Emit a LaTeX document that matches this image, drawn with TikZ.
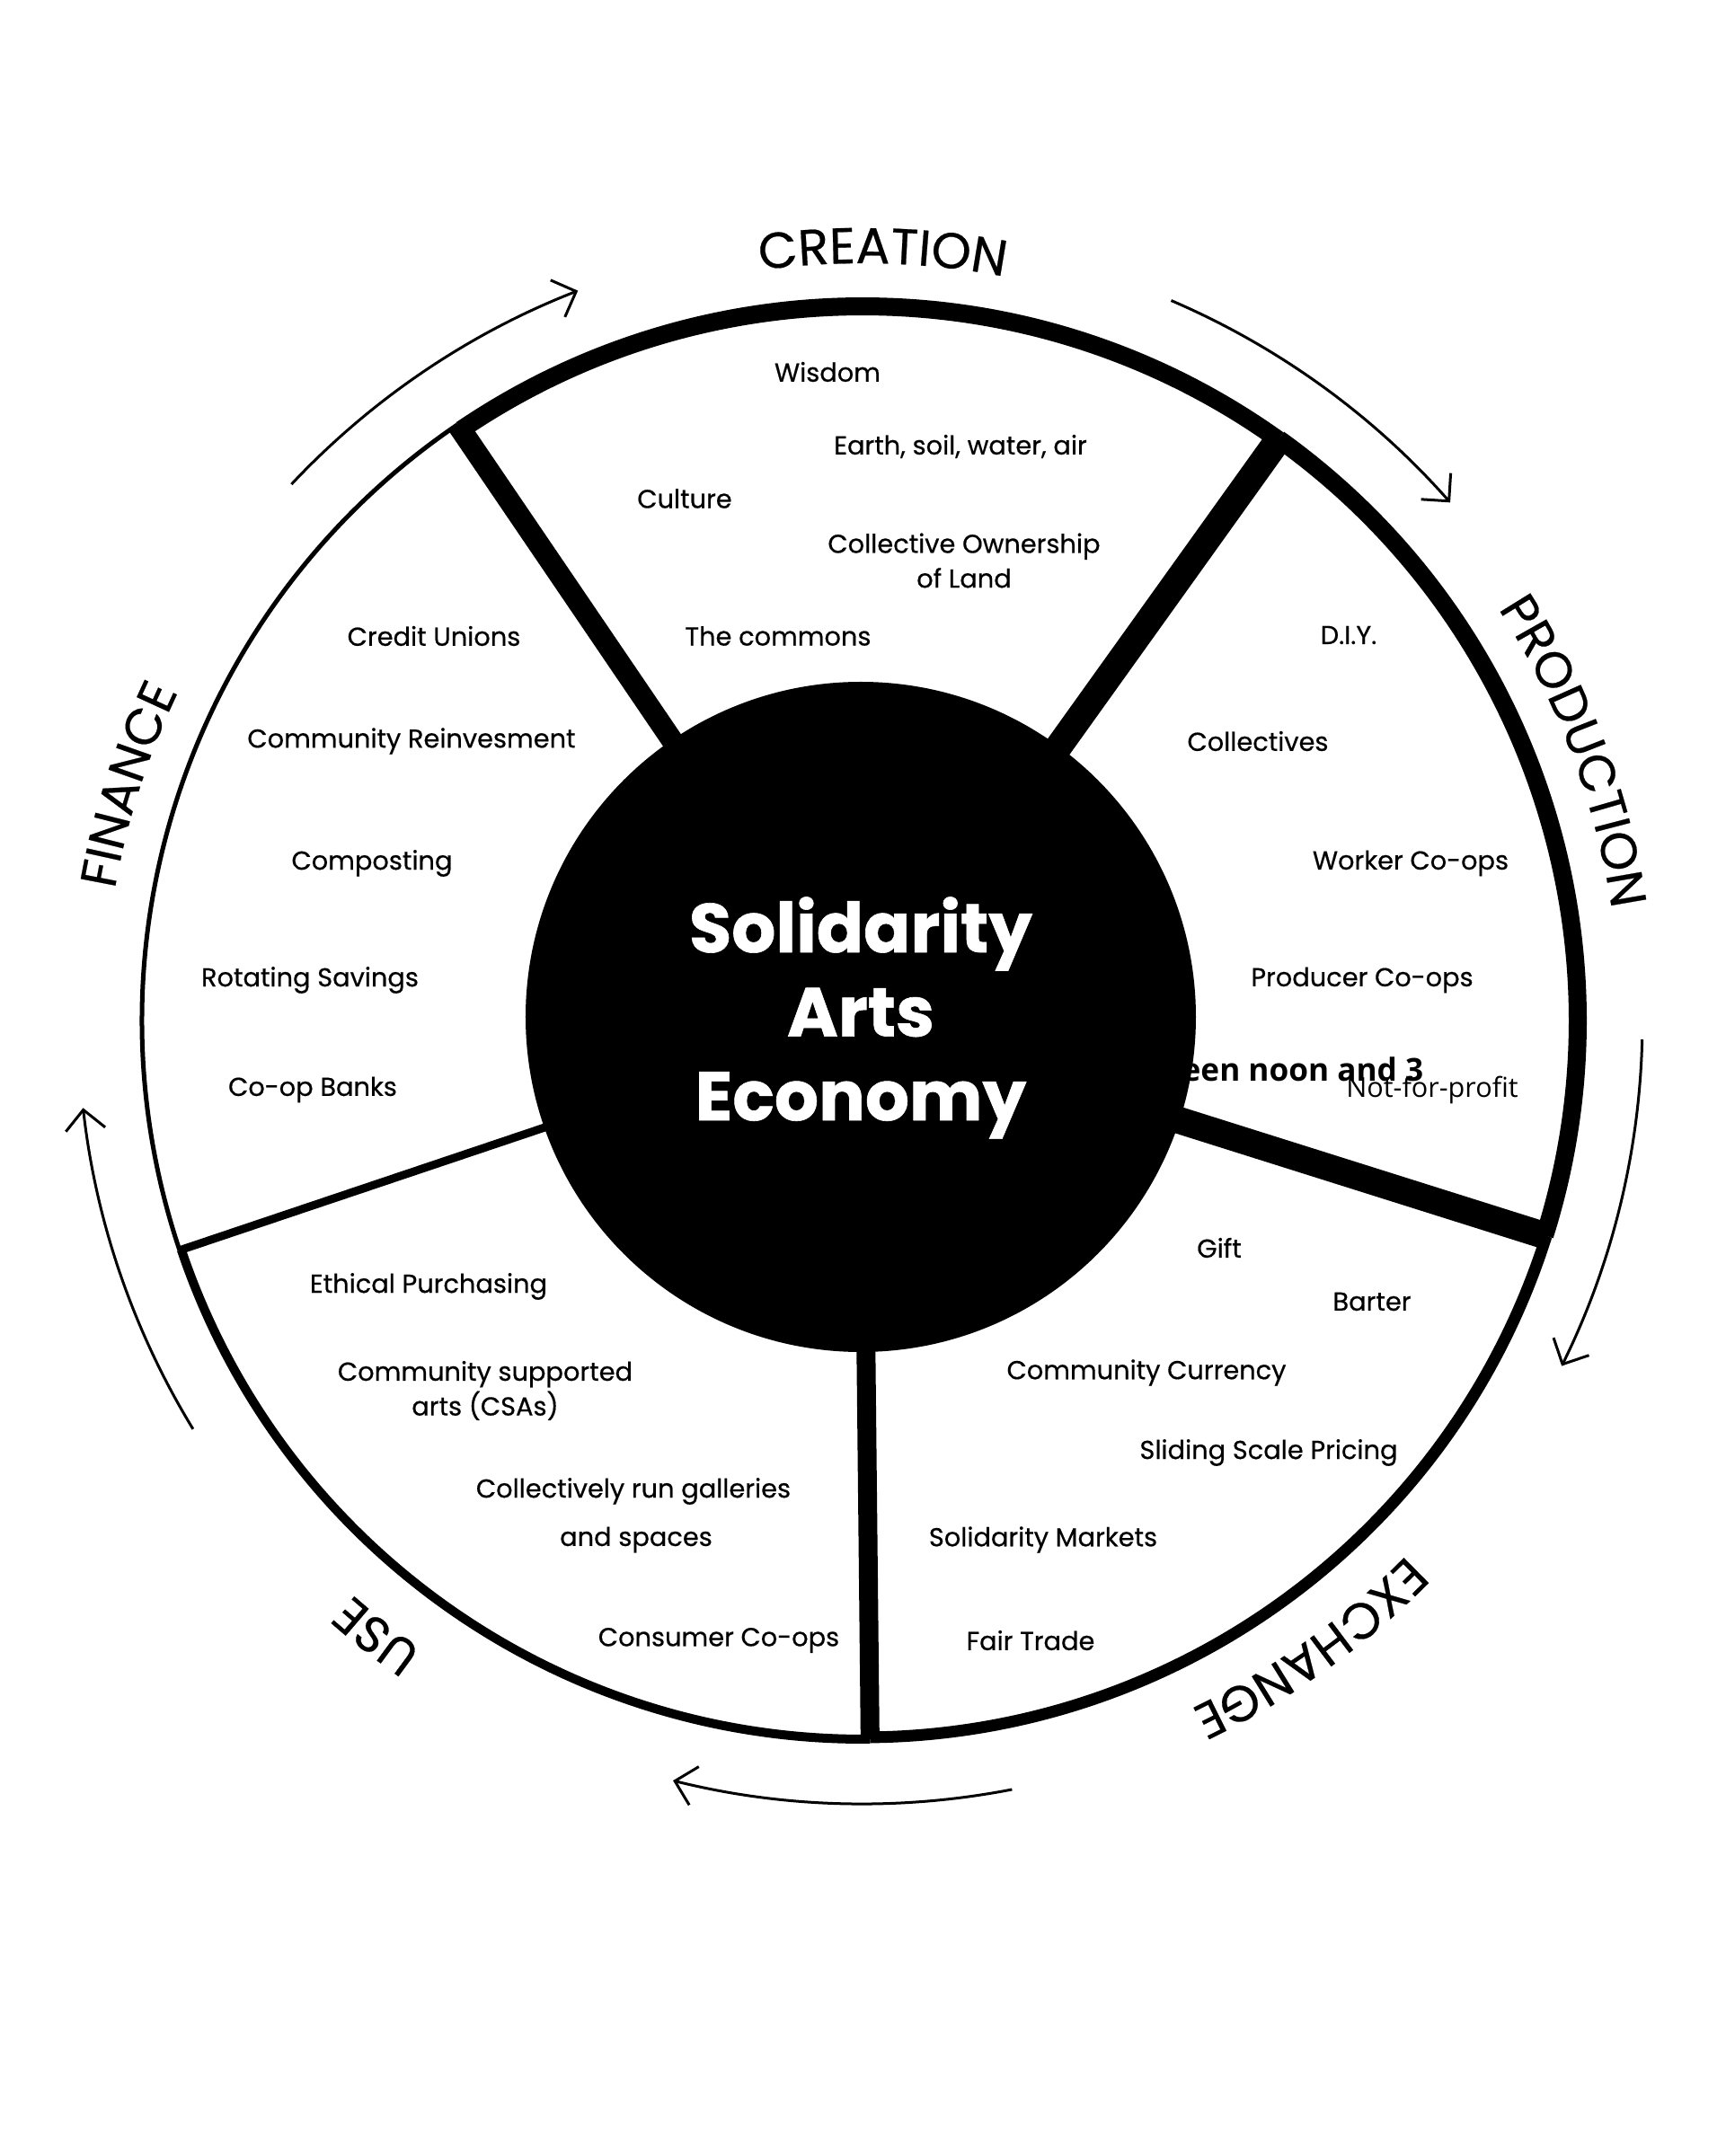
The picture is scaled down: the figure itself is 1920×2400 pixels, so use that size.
\documentclass[tikz,border=0pt]{standalone}
\usepackage{fontspec}
\setmainfont{Poppins}
\newfontfamily\itemfont{Poppins}[FakeBold=0.5]
\newfontfamily\ringfont{Poppins}[FakeBold=0.4]
\newfontfamily\titlefont{Poppins}[BoldFeatures={FakeBold=0.8}]
\newfontfamily\opensans{Open Sans}
\usetikzlibrary{arrows.meta,decorations.text}

\tikzset{
  item/.style={font=\itemfont\fontsize{8.2}{11}\selectfont, align=center, inner sep=0pt},
  stray/.style={font=\opensans\fontsize{8.7}{11}\selectfont, inner sep=0pt},
  cyclearrow/.style={line width=0.03cm, -{Straight Barb[length=0.22cm,width=0.44cm]}},
}

% label set along the ring: angle, radius, text
\newcommand{\ringtext}[3]{%
  \path [decorate, decoration={text along path, text align=center,
      text={|\ringfont\fontsize{16}{18}\selectfont|#3}}]
    ({#1+40}:#2) arc [start angle={#1+40}, end angle={#1-40}, radius=#2];
}

\begin{document}
\begin{tikzpicture}[x=0.01cm, y=0.01cm]
  \useasboundingbox (-960,-1264) rectangle (960,1136);

  % spokes
  \draw [line width=0.24cm] (124.2:300) -- (124.2:802);
  \draw [line width=0.30cm] (54.4:300) -- (54.4:800);
  \draw [line width=0.30cm] (-17.5:300) -- (-17.5:800);
  \draw [line width=0.21cm] (-89.4:300) -- (-89.4:800);
  \draw [line width=0.09cm] (198.6:300) -- (198.6:802);

  % rim, one arc per sector
  \draw [line width=0.20cm] (54.4:795) arc [start angle=54.4, end angle=124.2, radius=795];
  \draw [line width=0.20cm] (-17.5:796) arc [start angle=-17.5, end angle=54.4, radius=796];
  \draw [line width=0.13cm] (-89.4:798) arc [start angle=-89.4, end angle=-17.5, radius=798];
  \draw [line width=0.10cm] (-161.4:800) arc [start angle=-161.4, end angle=-89.4, radius=800];
  \draw [line width=0.05cm] (124.2:802) arc [start angle=124.2, end angle=198.6, radius=802];

  % text that runs under the centre
  \node [stray, font=\opensans\fontsize{10}{12}\selectfont\bfseries, anchor=west] (noon) at (355,-54) {een noon and 3};

  % centre
  \fill (-2,4) circle [radius=373];
  \node [white, font=\titlefont\bfseries\fontsize{21.9}{26.6}\selectfont, align=center, inner sep=0pt] (title) at (-2,3) {Solidarity\\Arts\\Economy};

  % ring labels
  \ringtext{88.5}{843}{CREATION}
  \ringtext{20.7}{843}{PRODUCTION}
  \ringtext{-54.5}{849}{EXCHANGE}
  \ringtext{-128.3}{855}{USE}
  \ringtext{162.2}{845}{FINANCE}

  % arrows between the labels
  \draw [cyclearrow] (136.8:872) arc [start angle=136.8, end angle=111.3, radius=872];
  \draw [cyclearrow] (66.8:872) arc [start angle=66.8, end angle=41.4, radius=872];
  \draw [cyclearrow] (-1.4:868) arc [start angle=-1.4, end angle=-26.3, radius=868];
  \draw [cyclearrow] (-79:872) arc [start angle=-79, end angle=-104, radius=872];
  \draw [cyclearrow] (-148.6:873) arc [start angle=-148.6, end angle=-173.6, radius=873];

  % creation
  \node [item] (wisdom) at (-39,722) {Wisdom};
  \node [item] (earth) at (109,639) {Earth, soil, water, air};
  \node [item] (culture) at (-198,581) {Culture};
  \node [item] (ownership) at (113,512) {Collective Ownership\\of Land};
  \node [item] (commons) at (-94,428) {The commons};
  % finance
  \node [item] (credit) at (-477,428) {Credit Unions};
  \node [item] (reinvest) at (-502,311) {Community Reinvesment};
  \node [item] (composting) at (-546,175) {Composting};
  \node [item] (rotating) at (-615,45) {Rotating Savings};
  \node [item] (banks) at (-612,-77) {Co-op Banks};
  % production
  \node [item] (diy) at (541,429) {D.I.Y.};
  \node [item] (collectives) at (440,311) {Collectives};
  \node [item] (worker) at (610,175) {Worker Co-ops};
  \node [item] (producer) at (556,45) {Producer Co-ops};
  \node [stray] (nonprofit) at (634,-77) {Not-for-profit};
  % exchange
  \node [item] (gift) at (397,-253) {Gift};
  \node [item] (barter) at (567,-313) {Barter};
  \node [item] (currency) at (316,-392) {Community Currency};
  \node [item] (sliding) at (452,-481) {Sliding Scale Pricing};
  \node [item] (markets) at (201,-578) {Solidarity Markets};
  \node [item] (fairtrade) at (187,-690) {Fair Trade};
  % use
  \node [item] (ethical) at (-483,-296) {Ethical Purchasing};
  \node [item] (csa) at (-420,-412) {Community supported\\arts (CSAs)};
  \node [item] (galleries) at (-255,-524) {Collectively run galleries};
  \node [item] (spaces) at (-252,-578) {and spaces};
  \node [item] (consumer) at (-160,-690) {Consumer Co-ops};
\end{tikzpicture}
\end{document}
